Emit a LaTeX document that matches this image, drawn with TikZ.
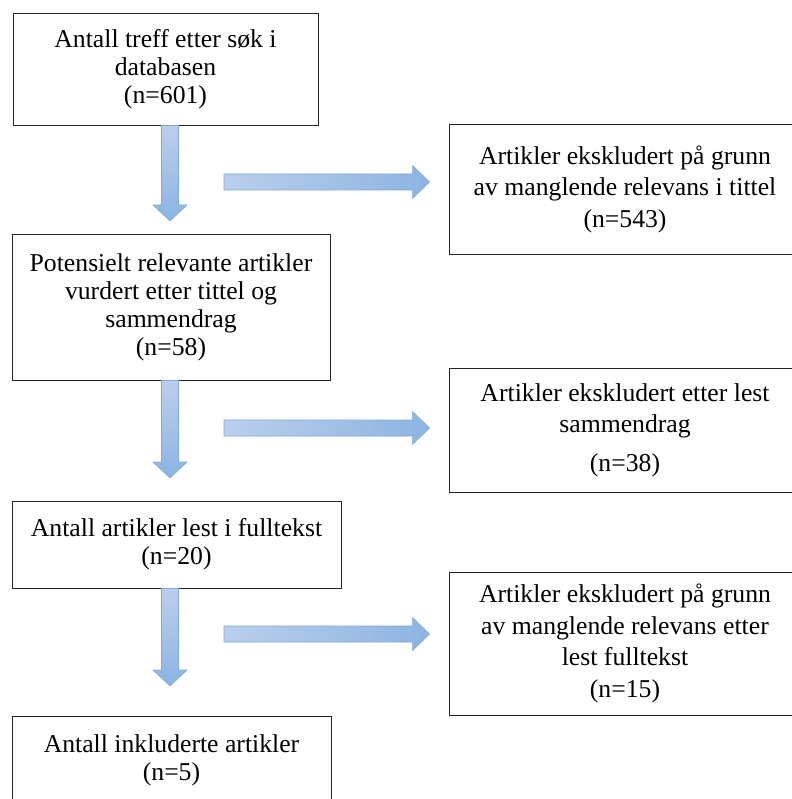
\documentclass[tikz,border=0pt]{standalone}
\usepackage{fontspec}
\setmainfont{Liberation Serif}
\definecolor{arrowlight}{RGB}{186,207,236}
\definecolor{arrowdark}{RGB}{140,180,226}
\definecolor{arrowedge}{RGB}{128,168,218}
\begin{document}
\begin{tikzpicture}[x=1pt, y=-1pt,
    box/.style={draw=black!85, line width=0.9pt, align=center, inner sep=0pt,
      font=\fontsize{25.7}{28}\selectfont},
    exbox/.style={box, font=\fontsize{25.7}{31.5}\selectfont, minimum width=352pt},
    varrow/.style={top color=arrowlight, bottom color=arrowdark, draw=arrowedge, line width=0.6pt},
    harrow/.style={left color=arrowlight, right color=arrowdark, draw=arrowedge, line width=0.6pt}]
  \useasboundingbox (0,0) rectangle (791,799);
  % Left column
  \node[box, minimum width=305pt, minimum height=112pt] (search) at (165.5,69)
    {Antall treff etter søk i\\ databasen\\ (n=601)};
  \node[box, minimum width=318pt, minimum height=146pt] (screen) at (171,307)
    {Potensielt relevante artikler\\ vurdert etter tittel og\\ sammendrag\\ (n=58)};
  \node[box, minimum width=329pt, minimum height=87pt] (fulltext) at (176.5,544.5)
    {Antall artikler lest i fulltekst\\ (n=20)};
  \node[box, minimum width=319pt, minimum height=88pt] (incl) at (171.5,760)
    {Antall inkluderte artikler\\ (n=5)};
  % Right column
  \node[exbox, minimum height=130pt] (ex1) at (625,189)
    {Artikler ekskludert på grunn\\ av manglende relevans i tittel\\ (n=543)};
  \node[exbox, minimum height=124pt] (ex2) at (625,430)
    {Artikler ekskludert etter lest\\ sammendrag\\[7pt] (n=38)};
  \node[exbox, minimum height=143pt] (ex3) at (625,643.5)
    {Artikler ekskludert på grunn\\ av manglende relevans etter\\ lest fulltekst\\ (n=15)};
  % Arrow ends
  \coordinate (v1t) at (170,221);
  \coordinate (v2t) at (170,478);
  \coordinate (v3t) at (170,686);
  \coordinate (v1s) at (search.south -| v1t);
  \coordinate (v2s) at (screen.south -| v2t);
  \coordinate (v3s) at (fulltext.south -| v3t);
  \coordinate (h1s) at (224,182);
  \coordinate (h2s) at (224,428);
  \coordinate (h3s) at (224,634);
  \coordinate (h1t) at (ex1.west |- h1s);
  \coordinate (h2t) at (ex2.west |- h2s);
  \coordinate (h3t) at (ex3.west |- h3s);
  % Block arrows down
  \foreach \s/\t in {v1s/v1t, v2s/v2t, v3s/v3t}
    \draw[varrow] ([xshift=-8.5pt]\s) -- ([xshift=-8.5pt,yshift=16pt]\t)
      -- ([xshift=-17pt,yshift=16pt]\t) -- (\t) -- ([xshift=17pt,yshift=16pt]\t)
      -- ([xshift=8.5pt,yshift=16pt]\t) -- ([xshift=8.5pt]\s) -- cycle;
  % Block arrows right
  \foreach \s/\t in {h1s/h1t, h2s/h2t, h3s/h3t}
    \draw[harrow] ([yshift=8pt]\s) -- ([xshift=-36pt,yshift=8pt]\t)
      -- ([xshift=-36pt,yshift=16.5pt]\t) -- ([xshift=-19pt]\t) -- ([xshift=-36pt,yshift=-16.5pt]\t)
      -- ([xshift=-36pt,yshift=-8pt]\t) -- ([yshift=-8pt]\s) -- cycle;
\end{tikzpicture}
\end{document}
